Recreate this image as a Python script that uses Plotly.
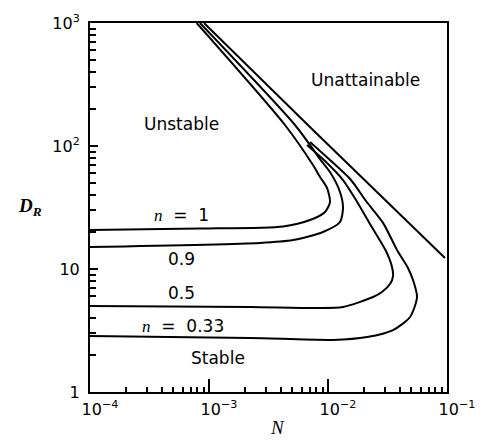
import plotly.graph_objects as go

# ---- data (N, D_R) ----
N_n1 = [7.88e-4, 4.35e-3, 7.48e-3, 8.57e-3, 9.81e-3, 1.039e-2, 9.44e-3, 7.06e-3, 4.19e-3, 8.40e-4, 1.0e-4]
D_n1 = [1000, 148.2, 70.0, 56.0, 45.6, 35.0, 29.1, 25.0, 22.2, 21.3, 20.8]

N_n09 = [8.40e-4, 5.28e-3, 8.85e-3, 1.039e-2, 1.261e-2, 1.337e-2, 1.261e-2, 9.08e-3, 5.08e-3, 2.68e-3, 1.0e-4]
D_n09 = [1000, 148.2, 75.0, 61.4, 42.3, 31.3, 24.1, 20.0, 17.2, 16.3, 15.1]

N_n05 = [6.66e-3, 9.44e-3, 1.337e-2, 1.719e-2, 2.254e-2, 3.07e-2, 3.45e-2, 3.52e-2, 3.32e-2, 2.84e-2, 2.39e-2, 1.337e-2, 8.08e-3, 2.21e-3, 1.0e-4]
D_n05 = [101.9, 75.5, 52.9, 36.4, 23.2, 14.0, 10.4, 8.77, 7.55, 6.50, 5.92, 4.91, 4.82, 4.91, 5.00]

N_n033 = [7.06e-3, 1.039e-2, 1.561e-2, 2.086e-2, 2.90e-2, 3.80e-2, 4.70e-2, 5.18e-2, 5.60e-2, 4.89e-2, 3.52e-2, 2.13e-2, 1.10e-2, 2.21e-3, 1.0e-4]
D_n033 = [107.8, 76.9, 52.9, 35.7, 23.7, 14.3, 10.2, 8.14, 5.92, 4.07, 3.19, 2.80, 2.65, 2.75, 2.85]

N_bound = [9.08e-4, 7.48e-3, 9.62e-2]
D_bound = [1000, 134.9, 12.3]

x_tickvals = [1e-4, 1e-3, 1e-2, 1e-1]
x_ticktext = ["10<sup>\u22124</sup>", "10<sup>\u22123</sup>", "10<sup>\u22122</sup>", "10<sup>\u22121</sup>"]
y_tickvals = [1, 10, 100, 1000]
y_ticktext = ["1", "10", "10<sup>2</sup>", "10<sup>3</sup>"]

x_minor = [m * 10.0 ** e for e in (-4, -3, -2) for m in range(2, 10)]
y_minor = [m * 10.0 ** e for e in (0, 1, 2) for m in range(2, 10)]

fig = go.Figure()
line_style = dict(color="black", width=2, shape="spline", smoothing=0.7)
for xs, ys in [(N_n1, D_n1), (N_n09, D_n09), (N_n05, D_n05), (N_n033, D_n033)]:
    fig.add_trace(go.Scatter(x=xs, y=ys, mode="lines", line=line_style, showlegend=False, hoverinfo="skip"))
fig.add_trace(go.Scatter(x=N_bound, y=D_bound, mode="lines", line=dict(color="black", width=2, shape="spline", smoothing=0.5),
                         showlegend=False, hoverinfo="skip"))

sans = "DejaVu Sans"
serif = "Liberation Serif"

axis_common = dict(
    type="log", showgrid=False, zeroline=False, showline=True, linecolor="black", linewidth=2,
    mirror=True, ticks="inside", tickcolor="black", tickwidth=1.5, tickmode="array", automargin=False,
    tickfont=dict(family=sans, size=16, color="black"),
)

fig.update_xaxes(
    **axis_common, range=[-4, -1], tickvals=x_tickvals, ticktext=x_ticktext, ticklen=13,
    ticklabelshift=10, ticklabelstandoff=2,
    minor=dict(tickmode="array", tickvals=x_minor, ticks="inside", ticklen=5, tickwidth=1.5, tickcolor="black", showgrid=False),
)
fig.update_yaxes(
    **axis_common, range=[0, 3], tickvals=y_tickvals, ticktext=y_ticktext, ticklen=8,
    ticklabelstandoff=5,
    minor=dict(tickmode="array", tickvals=y_minor, ticks="inside", ticklen=6, tickwidth=1.5, tickcolor="black", showgrid=False),
)

def txt(text, lx, ly, size=17, family=sans):
    fig.add_annotation(x=lx, y=ly, xref="x", yref="y", text=text, showarrow=False,
                       font=dict(family=family, size=size, color="black"), xanchor="center", yanchor="middle")

txt("Unstable", -3.227, 2.179)
txt("Unattainable", -1.689, 2.537)
txt("Stable", -2.924, 0.276)
nsp = "\u00a0\u00a0"
txt("<span style='font-family:Liberation Serif'><i>n</i></span>" + nsp + "=" + nsp + "1", -3.227, 1.439)
txt("0.9", -3.235, 1.081)
txt("0.5", -3.235, 0.805)
txt("<span style='font-family:Liberation Serif'><i>n</i></span>" + nsp + "=" + nsp + "0.33", -3.218, 0.537)

fig.add_annotation(x=(277 - 90) / 357, y=(392 - 427) / 369, xref="paper", yref="paper",
                   text="<i>N</i>", showarrow=False, font=dict(family=serif, size=19, color="black"),
                   xanchor="center", yanchor="middle")
fig.add_annotation(x=(30 - 90) / 357, y=(392 - 207) / 369, xref="paper", yref="paper",
                   text="<b><i>D</i></b><sub><b><i>R</i></b></sub>", showarrow=False,
                   font=dict(family=serif, size=19, color="black"), xanchor="center", yanchor="middle")

# the page body adds an 8 px offset; margins compensate so the plot box sits at x 90-447, y 23-392
fig.update_layout(
    width=489, height=445, margin=dict(l=82, r=50, t=15, b=61, autoexpand=False),
    plot_bgcolor="white", paper_bgcolor="white",
)

fig.write_html("out.html")
